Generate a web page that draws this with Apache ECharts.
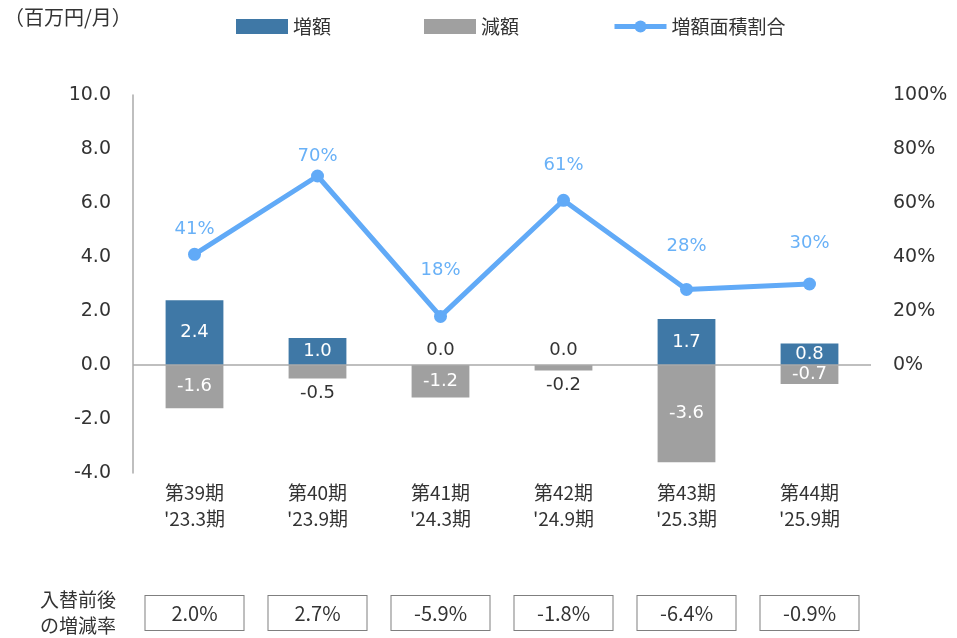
<!DOCTYPE html>
<html>
<head>
<meta charset="utf-8">
<script src="https://cdn.jsdelivr.net/npm/echarts@6/dist/echarts.min.js"></script>
<style>
  html, body { margin: 0; padding: 0; background: #fff; }
  #chart { width: 957px; height: 638px; }
</style>
</head>
<body>
<div id="chart"></div>
<script>
  // 期ごとのデータ
  const categories = ["第39期\n'23.3期", "第40期\n'23.9期", "第41期\n'24.3期", "第42期\n'24.9期", "第43期\n'25.3期", "第44期\n'25.9期"]
  const increase = [2.4, 1.0, 0.0, 0.0, 1.7, 0.8]
  const decrease = [-1.6, -0.5, -1.2, -0.2, -3.6, -0.7]
  const ratio = [41, 70, 18, 61, 28, 30]
  const changeRate = ['2.0%', '2.7%', '-5.9%', '-1.8%', '-6.4%', '-0.9%']

  // 折れ線ラベルの点からの距離（元資料の手動配置に合わせる）
  const ratioLabelGap = [9, 4, 31, 19, 28, 25]

  const BLUE = '#3f78a6'
  const GRAY = '#a0a0a0'
  const LINE = '#61aaf7'
  const TEXT = '#333'
  const NUM_FONT = "'DejaVu Sans', 'Noto Sans CJK JP', sans-serif"
  const JP_FONT = "'Noto Sans CJK JP', sans-serif"

  // 小さい値はラベルを棒の外に出す
  function barItem(v, outsidePos) {
    const small = Math.abs(v) < 0.6
    return {
      value: v,
      label: small
        ? { position: outsidePos, color: TEXT, distance: 6 }
        : { position: 'inside', color: '#fff' },
    }
  }

  const chart = echarts.init(document.getElementById('chart'), undefined, { renderer: 'canvas' })

  chart.setOption({
    animation: false,
    textStyle: { fontFamily: NUM_FONT },
    grid: { left: 133, right: 86, top: 95, bottom: 165, containLabel: false },
    legend: {
      left: 231,
      top: 12,
      itemWidth: 52,
      itemHeight: 15,
      itemGap: 93,
      textStyle: { fontSize: 19, color: TEXT, fontFamily: JP_FONT },
      data: [
        { name: '増額', icon: 'rect' },
        { name: '減額', icon: 'rect' },
        { name: '増額面積割合', lineStyle: { width: 5 } },
      ],
    },
    graphic: [
      {
        type: 'text',
        left: 4,
        top: 7,
        style: { text: '（百万円/月）', fontSize: 20, fontFamily: JP_FONT, fill: TEXT },
      },
      {
        type: 'text',
        left: 40,
        top: 587,
        style: { text: '入替前後\nの増減率', fontSize: 19, fontFamily: JP_FONT, fill: TEXT, lineHeight: 26 },
      },
    ],
    xAxis: [
      {
        type: 'category',
        data: categories,
        axisLine: { show: false },
        axisTick: { show: false },
        axisLabel: { color: TEXT, fontSize: 19, lineHeight: 26, margin: 7, fontFamily: JP_FONT },
      },
      {
        type: 'category',
        position: 'bottom',
        offset: 115,
        data: changeRate,
        axisLine: { show: false },
        axisTick: { show: false },
        axisLabel: {
          color: TEXT,
          fontSize: 20,
          fontFamily: JP_FONT,
          margin: 8,
          width: 98,
          height: 34,
          lineHeight: 34,
          align: 'center',
          borderColor: '#7f7f7f',
          borderWidth: 1,
          backgroundColor: '#fff',
        },
      },
    ],
    yAxis: [
      {
        type: 'value',
        min: -4,
        max: 10,
        interval: 2,
        axisLine: { show: true, lineStyle: { color: '#aaa', width: 1.5 } },
        axisTick: { show: false },
        splitLine: { show: false },
        axisLabel: { color: TEXT, fontSize: 19, margin: 22, formatter: (v) => v.toFixed(1) },
      },
      {
        type: 'value',
        min: -40,
        max: 100,
        interval: 20,
        position: 'right',
        axisLine: { show: false },
        axisTick: { show: false },
        splitLine: { show: false },
        axisLabel: {
          color: TEXT,
          fontSize: 19,
          margin: 22,
          formatter: (v) => (v < 0 ? '' : v + '%'),
        },
      },
    ],
    series: [
      {
        name: '増額',
        type: 'bar',
        stack: 'amt',
        barWidth: '47%',
        itemStyle: { color: BLUE },
        label: { show: true, fontSize: 18, formatter: (p) => p.value.toFixed(1) },
        data: increase.map((v) => barItem(v, 'top')),
        markLine: {
          silent: true,
          symbol: 'none',
          label: { show: false },
          lineStyle: { color: '#aaa', width: 1.5, type: 'solid' },
          data: [{ yAxis: 0 }],
        },
      },
      {
        name: '減額',
        type: 'bar',
        stack: 'amt',
        barWidth: '47%',
        itemStyle: { color: GRAY },
        label: { show: true, fontSize: 18, formatter: (p) => p.value.toFixed(1) },
        data: decrease.map((v) => barItem(v, 'bottom')),
      },
      {
        name: '増額面積割合',
        type: 'line',
        yAxisIndex: 1,
        data: ratio.map((v, i) => ({ value: v, label: { distance: ratioLabelGap[i] } })),
        symbol: 'circle',
        symbolSize: 13,
        lineStyle: { width: 5, color: LINE },
        itemStyle: { color: LINE },
        label: {
          show: true,
          position: 'top',
          color: '#69b1f7',
          fontSize: 18,
          formatter: (p) => p.value + '%',
        },
        z: 5,
      },
    ],
  })
</script>
</body>
</html>
